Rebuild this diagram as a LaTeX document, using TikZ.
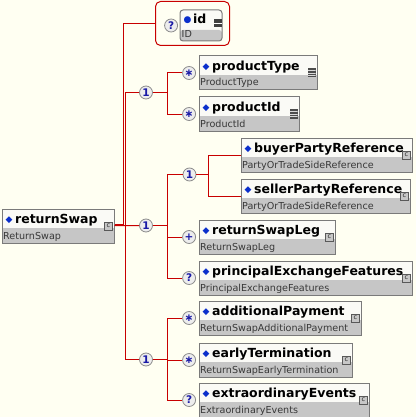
\documentclass[tikz,border=0pt]{standalone}
\usepackage{fontspec}
\setmainfont{DejaVu Sans}
\usepackage{xcolor}
\usepackage{tikz}
\usetikzlibrary{positioning}

\definecolor{bgcream}{HTML}{FFFFF2}
\definecolor{wire}{HTML}{C80000}
\definecolor{occblue}{HTML}{1A1AA6}
\definecolor{markblue}{HTML}{0A2ECC}
\definecolor{boxline}{HTML}{7A7A7A}
\definecolor{boxtop}{HTML}{FAFAF6}
\definecolor{typeband}{HTML}{C6C6C6}

\newcommand\elmark{{\color{markblue}\fontsize{9}{9}\selectfont\raisebox{1.2pt}{◆}}\hspace{2.5pt}}
\newcommand\attmark{{\color{markblue}\fontsize{9}{9}\selectfont\raisebox{1.2pt}{●}}\hspace{1.5pt}}

\begin{document}
\begin{tikzpicture}[
  x=1pt, y=-1pt,
  elem/.style={draw=boxline, line width=1pt, fill=boxtop, anchor=north west, inner sep=0pt,
    minimum height=34pt, minimum width=#1,
    path picture={\fill[typeband] ([yshift=15pt]path picture bounding box.south west)
      rectangle (path picture bounding box.south east);}},
  attr/.style={draw=boxline, line width=1pt, fill=boxtop, anchor=north west, inner sep=0pt,
    rounded corners=3pt, minimum height=31pt, minimum width=42pt,
    path picture={\fill[typeband] ([yshift=11pt]path picture bounding box.south west)
      rectangle (path picture bounding box.south east);}},
  grpbox/.style={draw=wire, line width=1pt, rounded corners=5pt, inner sep=0pt},
  ename/.style={anchor=base west, inner sep=0pt, font=\fontsize{12.5}{14}\selectfont\bfseries},
  etype/.style={anchor=base west, inner sep=0pt, font=\fontsize{9.6}{11}\selectfont, text=black!78},
  occ/.style={circle, draw=black!45, line width=0.8pt, fill=black!7, minimum size=13pt,
    inner sep=0pt, text=occblue, font=\fontsize{10.5}{10.5}\selectfont\bfseries},
  conn/.style={draw=wire, line width=1pt},
  cicon/.style={draw=black!65, line width=0.8pt, fill=black!22, minimum width=8pt,
    minimum height=8pt, inner sep=0pt, font=\fontsize{6.5}{6.5}\selectfont, text=black!85},
  sicon/.style={fill=black!70, minimum width=8pt, minimum height=9pt, inner sep=0pt,
    path picture={\foreach \k in {-2.5,0,2.5}
      {\draw[black!15, line width=0.6pt] ([yshift=\k pt]path picture bounding box.west)
        -- ([yshift=\k pt]path picture bounding box.east);}}},
  aicon/.style={fill=black!75, minimum width=8pt, minimum height=8pt, inner sep=0pt,
    path picture={\draw[white, line width=0.8pt] (path picture bounding box.west)
      -- (path picture bounding box.east);}},
]
\fill[bgcream] (0,0) rectangle (416,417);
\useasboundingbox (0,0) rectangle (416,417);

\foreach \n/\x/\y/\w/\t/\ty in {
  rs/1.5/208.5/112/returnSwap/ReturnSwap,
  pt/198.5/55.5/118/productType/ProductType,
  pi/198.5/96.5/100/productId/ProductId,
  bpr/240.5/137.5/171/buyerPartyReference/PartyOrTradeSideReference,
  spr/240.5/178.5/169/sellerPartyReference/PartyOrTradeSideReference,
  rsl/198.5/219.5/136/returnSwapLeg/ReturnSwapLeg,
  pef/198.5/260.5/213/principalExchangeFeatures/PrincipalExchangeFeatures,
  ap/198.5/300.5/162/additionalPayment/ReturnSwapAdditionalPayment,
  et/198.5/342.5/153/earlyTermination/ReturnSwapEarlyTermination,
  ee/198.5/382.5/170/extraordinaryEvents/ExtraordinaryEvents} {
  \node[elem=\w pt] (\n) at (\x,\y) {};
  \node[ename] at ([shift={(4,15)}]\n.north west) {\elmark\t};
  \node[etype] at ([shift={(1.5,30.5)}]\n.north west) {\ty};
}
\foreach \n in {rs,bpr,spr,rsl,pef,ap,et,ee}
  \node[cicon] at ([shift={(-6,17.5)}]\n.north east) {c};
\foreach \n in {pt,pi}
  \node[sicon] at ([shift={(-6,17.5)}]\n.north east) {};

\node[grpbox, minimum width=74pt, minimum height=44pt] (grp) at (192.5,23.5) {};
\node[attr] (idbox) at (179.5,9.5) {};
\node[ename] at ([shift={(4,14.5)}]idbox.north west) {\attmark id};
\node[etype] at ([shift={(2,28)}]idbox.north west) {ID};
\node[aicon] at ([shift={(-4.5,14)}]idbox.north east) {};
\node[occ, left=1.5pt of idbox] (idq) {?};

\node[occ] (c1) at (146,92.5) {1};
\node[occ] (c2) at (146,225.5) {1};
\node[occ] (c3) at (146,359.5) {1};
\node[occ] (c21) at (189.5,174.5) {1};

\node[occ, left=2.5pt of pt] (opt) {∗};
\node[occ, left=2.5pt of pi] (opi) {∗};
\node[occ, left=2.5pt of rsl] (orsl) {+};
\node[occ, left=2.5pt of pef] (opef) {?};
\node[occ, left=2.5pt of ap] (oap) {∗};
\node[occ, left=2.5pt of et] (oet) {∗};
\node[occ, left=2.5pt of ee] (oee) {?};

\coordinate (tA) at (123.5,23.5);
\coordinate (tB) at (125.5,359.5);
\coordinate (j1) at (167.5,92.5);
\coordinate (j2) at (167.5,225.5);
\coordinate (j3) at (208.5,174.5);
\coordinate (j4) at (167.5,359.5);

\draw[conn] ([yshift=2pt]rs.east) -| (tA) -- (grp);
\draw[conn] (rs) -- (c2);
\draw[conn] (c1) -| (tB) -- (c3);
\draw[conn] (c1) -- (j1) |- (opt);
\draw[conn] (j1) |- (opi);
\draw[conn] (c2) -- (j2) |- (c21);
\draw[conn] (j2) |- (orsl);
\draw[conn] (j2) |- (opef);
\draw[conn] (c21) -- (j3) |- (bpr);
\draw[conn] (j3) |- (spr);
\draw[conn] (c3) -- (j4) |- (oap);
\draw[conn] (j4) |- (oet);
\draw[conn] (j4) |- (oee);
\end{tikzpicture}
\end{document}
